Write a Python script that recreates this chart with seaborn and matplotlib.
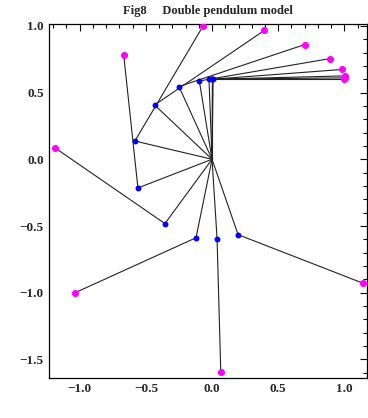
import pandas as pd
import seaborn as sns
import matplotlib.pyplot as plt
from matplotlib.ticker import MultipleLocator

# snapshots of the pendulum: first bob (blue), second bob (magenta)
x1 = [0.0, 0.003, 0.008, -0.023, -0.096, -0.25, -0.434, -0.583, -0.56, -0.356, -0.121, 0.038, 0.197]
y1 = [0.6, 0.6, 0.6, 0.598, 0.587, 0.545, 0.407, 0.137, -0.215, -0.482, -0.588, -0.595, -0.565]
x2 = [1.0, 1.003, 1.008, 0.983, 0.894, 0.702, 0.394, -0.07, -0.667, -1.19, -1.035, 0.066, 1.139]
y2 = [0.6, 0.61, 0.625, 0.673, 0.755, 0.86, 0.965, 0.995, 0.778, 0.088, -1.0, -1.593, -0.928]

sns.set_theme(style="white")
plt.rcParams['font.family'] = ['Liberation Serif', 'DejaVu Serif']
plt.rcParams['font.weight'] = 'bold'

# segments origin -> bob1 -> bob2
rows = []
for i in range(len(x1)):
    rows.append({"k": i, "o": 0, "x": 0.0, "y": 0.0})
    rows.append({"k": i, "o": 1, "x": x1[i], "y": y1[i]})
    rows.append({"k": i, "o": 2, "x": x2[i], "y": y2[i]})
seg = pd.DataFrame(rows)

fig = plt.figure(figsize=(3.68, 4.18), dpi=100)
ax = fig.add_axes([0.132, 0.096, 0.865, 0.847])

sns.lineplot(data=seg, x="x", y="y", units="k", estimator=None, sort=False,
             color="#222222", linewidth=0.8, ax=ax)
sns.scatterplot(x=x1, y=y1, color="#0000ff", s=18, linewidth=0, zorder=3, ax=ax)
sns.scatterplot(x=x2, y=y2, color="#ff00ff", s=26, linewidth=0, zorder=3, ax=ax)

ax.set_xlim(-1.235, 1.17)
ax.set_ylim(-1.638, 1.015)
ax.xaxis.set_major_locator(MultipleLocator(0.5))
ax.xaxis.set_minor_locator(MultipleLocator(0.1))
ax.yaxis.set_major_locator(MultipleLocator(0.5))
ax.yaxis.set_minor_locator(MultipleLocator(0.1))
ax.tick_params(which="both", direction="in", top=True, right=True, labelsize=9.5,
               width=0.8, color="black")
ax.tick_params(which="major", length=5)
ax.tick_params(which="minor", length=3)
for s in ax.spines.values():
    s.set_color("black")
    s.set_linewidth(0.9)
ax.set_xlabel("")
ax.set_ylabel("")
ax.set_title("Fig8     Double pendulum model", fontsize=9, fontweight="bold", pad=7)

fig.savefig("out.png", dpi=100)
